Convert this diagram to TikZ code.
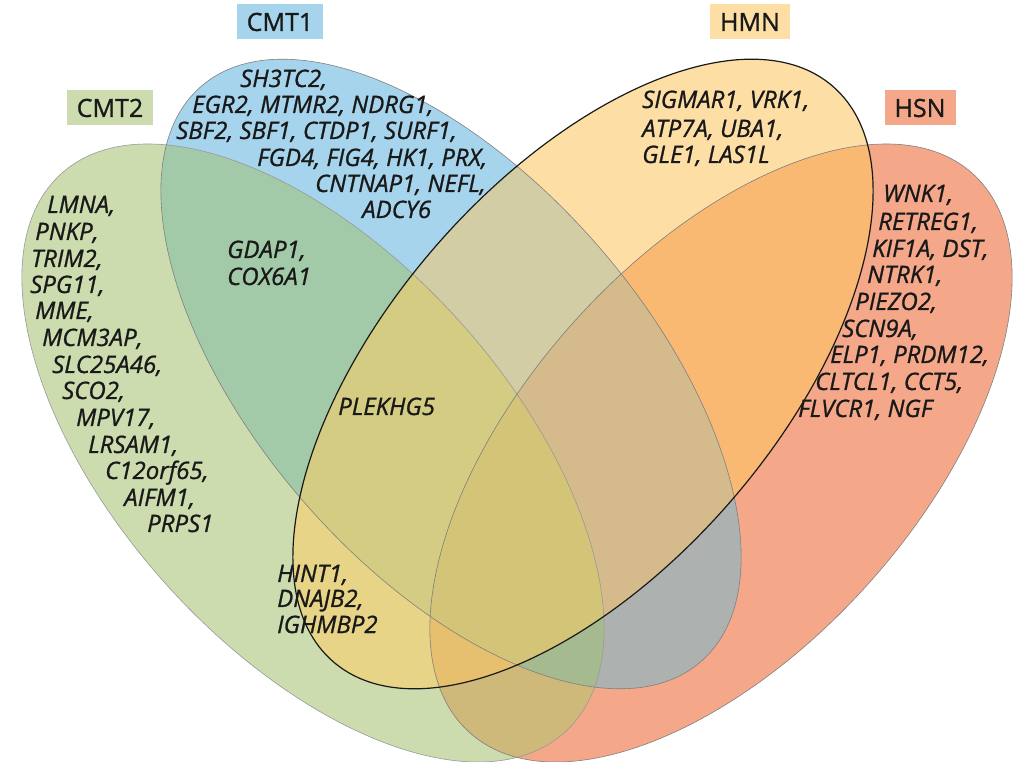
\documentclass[tikz,border=0pt]{standalone}
\usepackage{fontspec}
\setmainfont{Open Sans}
\newfontfamily\genefont{Open Sans}[FakeBold=1.0]

\definecolor{cTwo}{RGB}{204,220,174}
\definecolor{cOne}{RGB}{166,212,236}
\definecolor{cHmn}{RGB}{253,223,166}
\definecolor{cHsn}{RGB}{245,167,138}
\definecolor{cTwoOne}{RGB}{163,202,168}
\definecolor{cOneHmn}{RGB}{210,205,165}
\definecolor{cHmnHsn}{RGB}{250,185,115}
\definecolor{cTwoHmn}{RGB}{232,212,135}
\definecolor{cOneHsn}{RGB}{173,177,176}
\definecolor{cTwoHsn}{RGB}{206,184,122}
\definecolor{cTwoOneHmn}{RGB}{212,204,130}
\definecolor{cOneHmnHsn}{RGB}{213,187,140}
\definecolor{cTwoOneHsn}{RGB}{166,186,143}
\definecolor{cTwoHmnHsn}{RGB}{230,192,110}
\definecolor{cAll}{RGB}{212,196,120}

% the four sets, as paths
\newcommand{\cmtTwo}{(313,308) ellipse [x radius=376, y radius=197]}
\newcommand{\cmtOne}{(451,387) ellipse [x radius=381, y radius=195]}
\newcommand{\hmnSet}{(583,387) ellipse [x radius=381, y radius=195]}
\newcommand{\hsnSet}{(721,308) ellipse [x radius=376, y radius=197]}

\tikzset{
  rotTwo/.style={rotate around={-48:(313,308)}},
  rotOne/.style={rotate around={-49:(451,387)}},
  rotHmn/.style={rotate around={49:(583,387)}},
  rotHsn/.style={rotate around={48:(721,308)}},
  gene/.style={anchor=base west, inner sep=0pt, text=black!90, font=\genefont\fontsize{24}{28}\selectfont\itshape},
  tag/.style={fill=#1, minimum height=35, inner xsep=10, text=black!90, font=\genefont\fontsize{25}{28}\selectfont}
}

\begin{document}
\begin{tikzpicture}[x=1pt, y=1pt]
    \useasboundingbox (0,0) rectangle (1015,761);

    % single sets
    \fill[cTwo, rotTwo] \cmtTwo;
    \fill[cOne, rotOne] \cmtOne;
    \fill[cHmn, rotHmn] \hmnSet;
    \fill[cHsn, rotHsn] \hsnSet;

    % pairs
    \begin{scope}\clip[rotTwo] \cmtTwo; \fill[cTwoOne, rotOne] \cmtOne; \end{scope}
    \begin{scope}\clip[rotOne] \cmtOne; \fill[cOneHmn, rotHmn] \hmnSet; \end{scope}
    \begin{scope}\clip[rotHmn] \hmnSet; \fill[cHmnHsn, rotHsn] \hsnSet; \end{scope}
    \begin{scope}\clip[rotTwo] \cmtTwo; \fill[cTwoHmn, rotHmn] \hmnSet; \end{scope}
    \begin{scope}\clip[rotOne] \cmtOne; \fill[cOneHsn, rotHsn] \hsnSet; \end{scope}
    \begin{scope}\clip[rotTwo] \cmtTwo; \fill[cTwoHsn, rotHsn] \hsnSet; \end{scope}

    % triples
    \begin{scope}\clip[rotTwo] \cmtTwo; \clip[rotOne] \cmtOne; \fill[cTwoOneHmn, rotHmn] \hmnSet; \end{scope}
    \begin{scope}\clip[rotOne] \cmtOne; \clip[rotHmn] \hmnSet; \fill[cOneHmnHsn, rotHsn] \hsnSet; \end{scope}
    \begin{scope}\clip[rotTwo] \cmtTwo; \clip[rotOne] \cmtOne; \fill[cTwoOneHsn, rotHsn] \hsnSet; \end{scope}
    \begin{scope}\clip[rotTwo] \cmtTwo; \clip[rotHmn] \hmnSet; \fill[cTwoHmnHsn, rotHsn] \hsnSet; \end{scope}

    % all four
    \begin{scope}
        \clip[rotTwo] \cmtTwo; \clip[rotOne] \cmtOne; \clip[rotHmn] \hmnSet;
        \fill[cAll, rotHsn] \hsnSet;
    \end{scope}

    % outlines
    \draw[black!40, line width=0.6, rotTwo] \cmtTwo;
    \draw[black!50, line width=0.6, rotOne] \cmtOne;
    \draw[black!50, line width=0.6, rotHsn] \hsnSet;
    \draw[black!90, line width=1.2, rotHmn] \hmnSet;

    % set labels
    \node[tag=cOne] (tOne) at (280,739) {CMT1};
    \node[tag=cTwo] (tTwo) at (110,653) {CMT2};
    \node[tag=cHmn] (tHmn) at (750,739) {HMN};
    \node[tag=cHsn] (tHsn) at (920,653) {HSN};

    % CMT1 only
    \foreach \x/\y/\g [count=\n] in {240/674/{SH3TC2,}, 192/648/{EGR2, MTMR2, NDRG1,},
        176/622/{SBF2, SBF1, CTDP1, SURF1,}, 257/595/{FGD4, FIG4, HK1, PRX,},
        315/569/{CNTNAP1, NEFL,}, 362/543/{ADCY6}}
        \node[gene] (one-\n) at (\x,\y) {\g};

    % CMT2 only
    \foreach \x/\y/\g [count=\n] in {47/548/{LMNA,}, 35/521/{PNKP,}, 31/494/{TRIM2,},
        30/468/{SPG11,}, 35/442/{MME,}, 42/415/{MCM3AP,}, 52/388/{SLC25A46,},
        62/362/{SCO2,}, 76/335/{MPV17,}, 88/308/{LRSAM1,}, 105/282/{C12orf65,},
        124/255/{AIFM1,}, 147/229/{PRPS1}}
        \node[gene] (two-\n) at (\x,\y) {\g};

    % HMN only
    \foreach \x/\y/\g [count=\n] in {642/653/{SIGMAR1, VRK1,}, 642/624/{ATP7A, UBA1,},
        642/598/{GLE1, LAS1L}}
        \node[gene] (hmn-\n) at (\x,\y) {\g};

    % HSN only
    \foreach \x/\y/\g [count=\n] in {883/559/{WNK1,}, 878/531/{RETREG1,}, 872/504/{KIF1A, DST,},
        867/478/{NTRK1,}, 855/451/{PIEZO2,}, 842/424/{SCN9A,}, 830/398/{ELP1, PRDM12,},
        815/371/{CLTCL1, CCT5,}, 798/344/{FLVCR1, NGF}}
        \node[gene] (hsn-\n) at (\x,\y) {\g};

    % overlaps
    \node[gene] (gdap) at (227,503) {GDAP1,};
    \node[gene] (cox) at (227,476) {COX6A1};
    \node[gene] (plek) at (338,346) {PLEKHG5};
    \node[gene] (hint) at (277,179) {HINT1,};
    \node[gene] (dnaj) at (277,154) {DNAJB2,};
    \node[gene] (ighm) at (277,128) {IGHMBP2};
\end{tikzpicture}
\end{document}
